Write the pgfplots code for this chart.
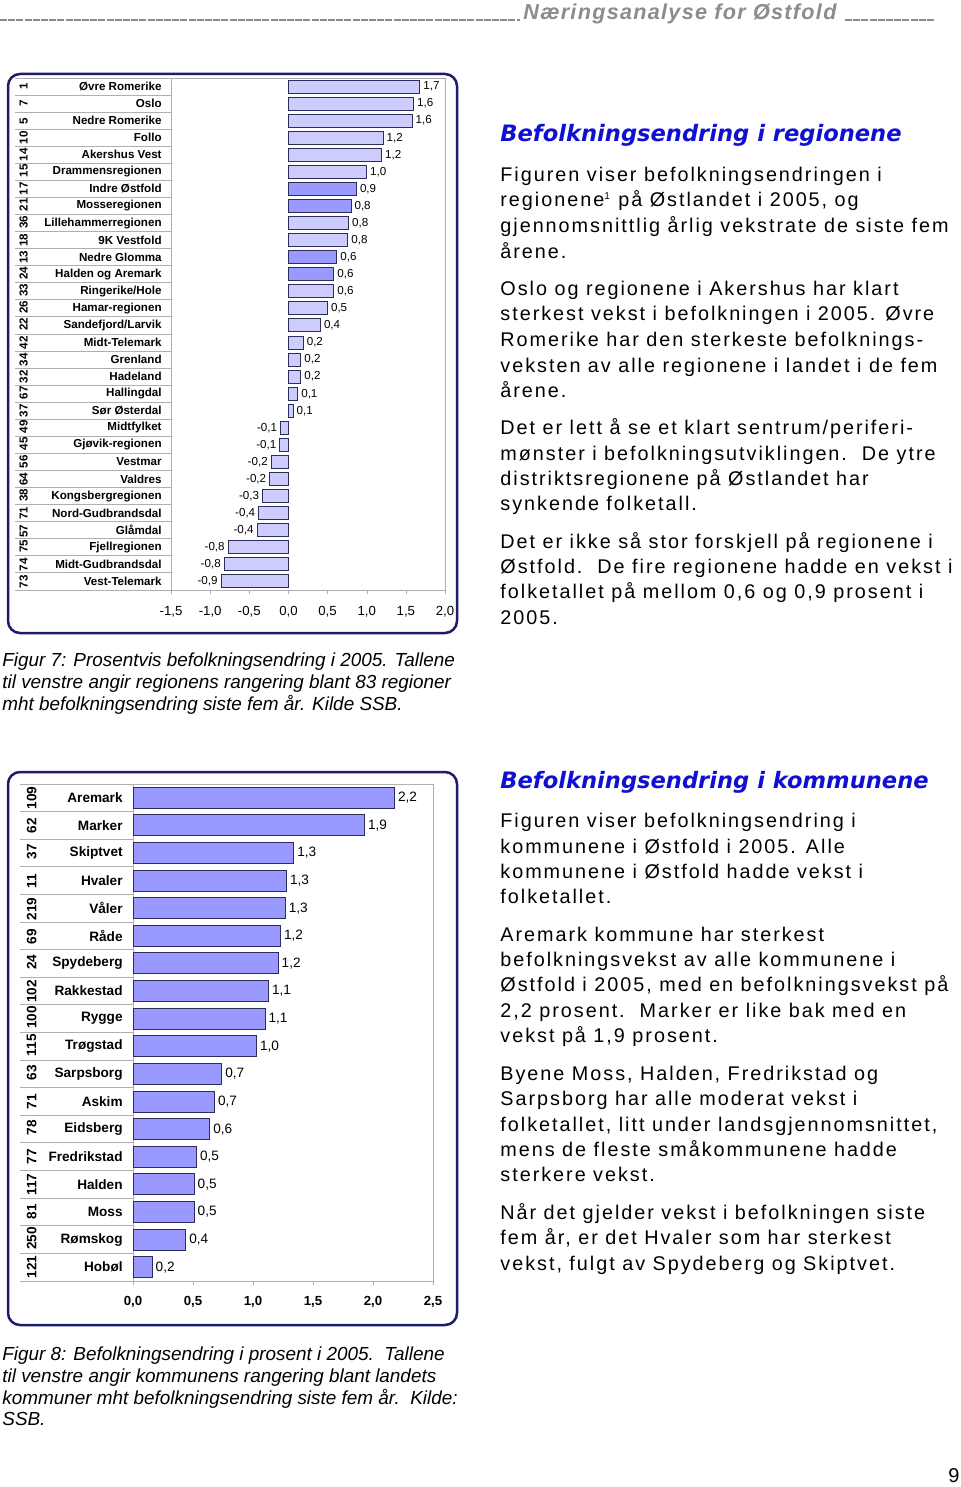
\documentclass[border=0pt]{standalone}
\usepackage{fontspec}
\setmainfont{Liberation Sans}
\newfontfamily\bodyfont[LetterSpace=10]{Liberation Sans}
\newfontfamily\hdrfont[LetterSpace=6]{Liberation Sans}
\newfontfamily\headfont{DejaVu Sans}
\usepackage{graphicx}
\usepackage{pgfplots}
\pgfplotsset{compat=1.18}

\definecolor{navy}{RGB}{28,28,110}
\definecolor{barlight}{RGB}{204,204,255}
\definecolor{bardark}{RGB}{153,153,255}
\definecolor{barline}{RGB}{45,45,90}
\definecolor{gridgray}{RGB}{175,175,175}
\definecolor{headblue}{RGB}{16,16,210}
\definecolor{hdrgray}{RGB}{140,140,140}

% tick label: rotated rank at the left, name flush right
\newcommand\labA[2]{\makebox[69pt][l]{\makebox[0pt]{\smash{\rotatebox[origin=c]{90}{\bfseries #1}}}\hfill\bfseries #2}}
\newcommand\labB[2]{\makebox[45.5pt][l]{\makebox[0pt]{\smash{\rotatebox[origin=c]{90}{\bfseries #1}}}\hfill\bfseries #2}}
% one line of text, position in pixels of the page (x, baseline)
\newcommand\tl[3]{\node[anchor=base west,inner sep=0pt,font=\bodyfont\fontsize{9.9}{12}\selectfont] at ({#1*0.5pt},{-(#2+3)*0.5pt}) {#3};}
\newcommand\cl[3]{\node[anchor=base west,inner sep=0pt,font=\itshape\fontsize{9.45}{11}\selectfont] at ({#1*0.5pt},{-#2*0.5pt}) {#3};}

\pgfplotsset{
  rowchart/.style={
    scale only axis, anchor=south west,
    xbar, y dir=reverse,
    axis line style={gridgray},
    tick align=outside,
    xtick pos=bottom, ytick pos=left,
    major tick length=2pt,
    major y tick style={draw=none},
    minor y tick style={gridgray, line width=0.5pt},
    x tick style={gridgray},
    yticklabel style={anchor=east, inner sep=0pt},
    /pgf/number format/use comma,
    /pgf/number format/fixed,
    /pgf/number format/fixed zerofill,
    /pgf/number format/precision=1,
    /pgf/number format/assume math mode=true,
    nodes near coords,
    nodes near coords align=horizontal,
    point meta=x,
  },
}

\begin{document}
\begin{tikzpicture}
\useasboundingbox[fill=white] (0,0) rectangle (480pt,-743.5pt);

% header
\draw[hdrgray, line width=0.6pt, dash pattern=on 3.5pt off 0.6pt] (0pt,-10pt) -- (260pt,-10pt);
\draw[hdrgray, line width=0.6pt, dash pattern=on 3.5pt off 0.6pt] (422.5pt,-10pt) -- (467.5pt,-10pt);
\node[anchor=base west, inner sep=0pt, text=hdrgray, font=\hdrfont\bfseries\itshape\fontsize{10.8}{12}\selectfont] at (261.5pt,-10pt) {Næringsanalyse for Østfold};

% frames
\draw[navy, line width=1.25pt, rounded corners=6pt] (4pt,-37pt) rectangle (228.5pt,-316.5pt);
\draw[navy, line width=1.25pt, rounded corners=6pt] (4pt,-386pt) rectangle (228.5pt,-662.5pt);

% Figur 7: regions
\begin{axis}[rowchart,
  at={(85.5pt,-295pt)}, width=137pt, height=256pt,
  xmin=-1.5, xmax=2, ymin=-0.5, ymax=29.5,
  xtick={-1.5,-1,...,2},
  ytick={0,...,29},
  minor ytick={-0.5,0.5,...,29.5},
  minor tick length=78pt,
  bar width=6.5pt,
  xticklabel style={font=\fontsize{6.6}{7}\selectfont, yshift=-2.5pt},
  yticklabel style={font=\fontsize{5.8}{6}\selectfont, xshift=-2.5pt},
  every node near coord/.append style={font=\fontsize{5.8}{6}\selectfont, text=black, inner sep=1.5pt},
  yticklabels={\labA{1}{Øvre Romerike},\labA{7}{Oslo},\labA{5}{Nedre Romerike},\labA{10}{Follo},\labA{14}{Akershus Vest},\labA{15}{Drammensregionen},\labA{17}{Indre Østfold},\labA{21}{Mosseregionen},\labA{36}{Lillehammerregionen},\labA{18}{9K Vestfold},\labA{13}{Nedre Glomma},\labA{24}{Halden og Aremark},\labA{33}{Ringerike/Hole},\labA{26}{Hamar-regionen},\labA{22}{Sandefjord/Larvik},\labA{42}{Midt-Telemark},\labA{34}{Grenland},\labA{32}{Hadeland},\labA{67}{Hallingdal},\labA{37}{Sør Østerdal},\labA{49}{Midtfylket},\labA{45}{Gjøvik-regionen},\labA{56}{Vestmar},\labA{64}{Valdres},\labA{38}{Kongsbergregionen},\labA{71}{Nord-Gudbrandsdal},\labA{57}{Glåmdal},\labA{75}{Fjellregionen},\labA{74}{Midt-Gudbrandsdal},\labA{73}{Vest-Telemark}},
]
\addplot[fill=barlight, draw=barline, line width=0.5pt, bar shift=0pt] coordinates {
  (1.68,0) (1.60,1) (1.58,2) (1.21,3) (1.19,4) (1.00,5) (0.77,8) (0.76,9)
  (0.58,12) (0.50,13) (0.41,14) (0.19,15) (0.16,16) (0.16,17) (0.12,18) (0.06,19)
  (-0.10,20) (-0.11,21) (-0.22,22) (-0.24,23) (-0.33,24) (-0.38,25) (-0.40,26)
  (-0.77,27) (-0.82,28) (-0.86,29)
};
\addplot[fill=bardark, draw=barline, line width=0.5pt, bar shift=0pt] coordinates {
  (0.87,6) (0.80,7) (0.62,10) (0.58,11)
};
\end{axis}

% Figur 8: municipalities
\begin{axis}[rowchart,
  at={(66.5pt,-640.5pt)}, width=150pt, height=248.5pt,
  xmin=0, xmax=2.5, ymin=-0.5, ymax=17.5,
  xtick={0,0.5,...,2.5},
  ytick={0,...,17},
  minor ytick={-0.5,0.5,...,17.5},
  minor tick length=56.5pt,
  bar width=10.5pt,
  xticklabel style={font=\bfseries\fontsize{6.6}{7}\selectfont, yshift=-2pt},
  yticklabel style={font=\fontsize{6.8}{7}\selectfont, xshift=-3pt},
  every node near coord/.append style={font=\fontsize{6.8}{7}\selectfont, text=black, inner sep=1.5pt},
  yticklabels={\labB{109}{Aremark},\labB{62}{Marker},\labB{37}{Skiptvet},\labB{11}{Hvaler},\labB{219}{Våler},\labB{69}{Råde},\labB{24}{Spydeberg},\labB{102}{Rakkestad},\labB{100}{Rygge},\labB{115}{Trøgstad},\labB{63}{Sarpsborg},\labB{71}{Askim},\labB{78}{Eidsberg},\labB{77}{Fredrikstad},\labB{117}{Halden},\labB{81}{Moss},\labB{250}{Rømskog},\labB{121}{Hobøl}},
]
\addplot[fill=bardark, draw=barline, line width=0.5pt, bar shift=0pt] coordinates {
  (2.18,0) (1.93,1) (1.34,2) (1.28,3) (1.27,4) (1.23,5) (1.21,6) (1.13,7) (1.10,8)
  (1.03,9) (0.74,10) (0.68,11) (0.64,12) (0.53,13) (0.51,14) (0.51,15) (0.44,16) (0.16,17)
};
\end{axis}

% captions
\cl{2}{666}{Figur 7: Prosentvis befolkningsendring i 2005. Tallene}
\cl{2}{688}{til venstre angir regionens rangering blant 83 regioner}
\cl{2}{710}{mht befolkningsendring siste fem år. Kilde SSB.}
\cl{2}{1360}{Figur 8: Befolkningsendring i prosent i 2005.\ \ Tallene}
\cl{2}{1382}{til venstre angir kommunens rangering blant landets}
\cl{2}{1404}{kommuner mht befolkningsendring siste fem år.\ \ Kilde:}
\cl{2}{1425}{SSB.}

% right column
\node[anchor=base west, inner sep=0pt, text=headblue, font=\headfont\bfseries\itshape\fontsize{11.3}{13}\selectfont] at (250pt,-71pt) {Befolkningsendring i regionene};
\tl{500}{179}{Figuren viser befolkningsendringen i}
\tl{500}{204}{regionene\textsuperscript{\fontsize{5}{5}\selectfont 1} på Østlandet i 2005, og}
\tl{500}{230}{gjennomsnittlig årlig vekstrate de siste fem}
\tl{500}{255}{årene.}
\tl{500}{292}{Oslo og regionene i Akershus har klart}
\tl{500}{317}{sterkest vekst i befolkningen i 2005. Øvre}
\tl{500}{343}{Romerike har den sterkeste befolknings-}
\tl{500}{369}{veksten av alle regionene i landet i de fem}
\tl{500}{394}{årene.}
\tl{500}{431}{Det er lett å se et klart sentrum/periferi-}
\tl{500}{457}{mønster i befolkningsutviklingen.\ \ De ytre}
\tl{500}{482}{distriktsregionene på Østlandet har}
\tl{500}{507}{synkende folketall.}
\tl{500}{545}{Det er ikke så stor forskjell på regionene i}
\tl{500}{570}{Østfold.\ \ De fire regionene hadde en vekst i}
\tl{500}{595}{folketallet på mellom 0,6 og 0,9 prosent i}
\tl{500}{621}{2005.}

\node[anchor=base west, inner sep=0pt, text=headblue, font=\headfont\bfseries\itshape\fontsize{11.3}{13}\selectfont] at (250pt,-394pt) {Befolkningsendring i kommunene};
\tl{500}{824}{Figuren viser befolkningsendring i}
\tl{500}{850}{kommunene i Østfold i 2005. Alle}
\tl{500}{875}{kommunene i Østfold hadde vekst i}
\tl{500}{900}{folketallet.}
\tl{500}{938}{Aremark kommune har sterkest}
\tl{500}{963}{befolkningsvekst av alle kommunene i}
\tl{500}{988}{Østfold i 2005, med en befolkningsvekst på}
\tl{500}{1014}{2,2 prosent.\ \ Marker er like bak med en}
\tl{500}{1039}{vekst på 1,9 prosent.}
\tl{500}{1077}{Byene Moss, Halden, Fredrikstad og}
\tl{500}{1102}{Sarpsborg har alle moderat vekst i}
\tl{500}{1128}{folketallet, litt under landsgjennomsnittet,}
\tl{500}{1153}{mens de fleste småkommunene hadde}
\tl{500}{1178}{sterkere vekst.}
\tl{500}{1216}{Når det gjelder vekst i befolkningen siste}
\tl{500}{1241}{fem år, er det Hvaler som har sterkest}
\tl{500}{1267}{vekst, fulgt av Spydeberg og Skiptvet.}

% page number
\node[anchor=base east, inner sep=0pt, font=\fontsize{10}{12}\selectfont] at (480pt,-741pt) {9};
\end{tikzpicture}
\end{document}
